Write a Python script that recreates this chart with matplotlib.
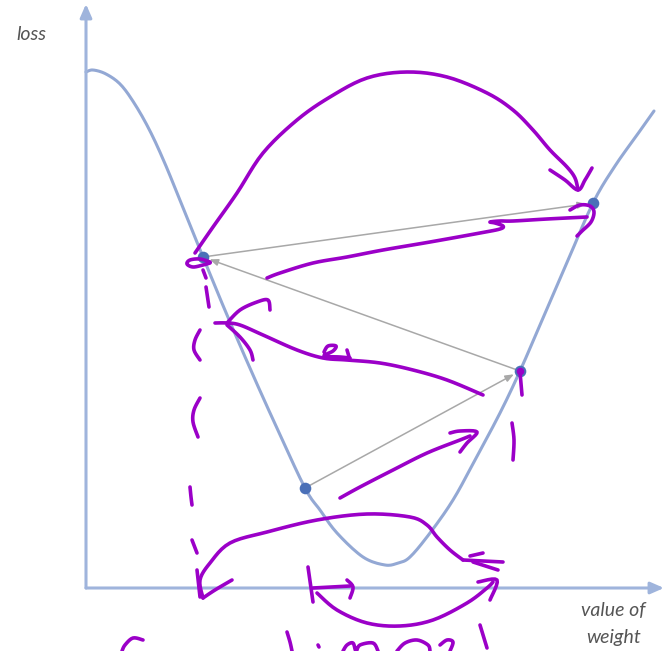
import matplotlib
matplotlib.use("Agg")
import matplotlib.pyplot as plt
import numpy as np

# Loss curve sampled along the weight axis
weight = [0, 7, 20, 35, 50, 65, 80, 95, 117, 141, 167, 190, 219, 234, 251, 277,
          299, 312, 324, 344, 367, 389, 414, 434, 454, 480, 507, 529, 551, 568]
loss = [516, 518, 514, 503, 482, 455, 422, 385, 331, 273, 213, 162, 100, 78, 55, 31,
        23, 25, 31, 55, 88, 128, 175, 217, 263, 323, 385, 422, 453, 477]

# Gradient-descent steps (in visiting order)
step_w = [219, 434, 117, 507]
step_l = [100, 217, 331, 385]

# Hand-drawn pen annotations: each stroke is a list of (weight, loss) points
pen_strokes = [
    # big arc from the left point over to the right point
    [(109, 335), (127, 361), (151, 395), (177, 435), (211, 468), (244, 491), (281, 510),
     (321, 516), (361, 511), (401, 495), (427, 478), (447, 458), (464, 438), (481, 421),
     (489, 410), (492, 398)],
    [(464, 418), (479, 408), (492, 398), (499, 408), (506, 420)],
    # arrow along the long step to the right
    [(181, 310), (194, 315), (227, 325), (261, 331), (297, 338), (344, 346), (394, 355),
     (414, 359), (417, 362), (409, 365), (404, 366), (414, 367), (427, 367), (461, 369),
     (501, 371)],
    [(484, 378), (494, 383), (504, 382), (508, 376), (505, 366), (496, 357), (491, 352)],
    # small loop on the left point
    [(124, 326), (114, 329), (104, 328), (101, 324), (107, 321), (117, 323), (124, 325)],
    # dashed drop line under the left point
    [(117, 318), (120, 310)],
    [(120, 301), (123, 281)],
    [(114, 258), (109, 248), (108, 238), (114, 228)],
    [(114, 190), (108, 178), (107, 166), (112, 151)],
    [(104, 101), (105, 91), (106, 83)],
    [(106, 48), (111, 35)],
    [(111, 18), (114, -9)],
    # arrow back to the left
    [(397, 193), (361, 208), (327, 218), (294, 225), (261, 228), (237, 230), (211, 238),
     (177, 253), (154, 263), (141, 265), (129, 265)],
    [(141, 265), (154, 278), (171, 286), (182, 288), (184, 278)],
    [(141, 263), (154, 251), (164, 238), (167, 228)],
    [(238, 236), (242, 242), (250, 242), (247, 237), (238, 232), (254, 231), (264, 230)],
    [(261, 238), (264, 228)],
    # mark on the middle-right point and tick below it
    [(434, 216), (436, 193)],
    [(426, 165), (428, 148), (427, 128)],
    # arrow along the first step
    [(254, 90), (274, 101), (307, 118), (341, 135), (374, 148), (384, 152)],
    [(364, 155), (374, 157), (391, 156), (381, 145), (374, 136)],
    # lower arc under the valley
    [(377, 28), (364, 38), (351, 51), (341, 63), (324, 71), (281, 74), (231, 68),
     (181, 56), (144, 45), (124, 25), (114, 8), (117, -10)],
    [(117, -10), (129, -2), (146, 8)],
    [(377, 28), (417, 26)],
    [(387, 26), (412, 18)],
    [(384, 32), (397, 35)],
    # start tick and arc under the axis
    [(222, 21), (227, -14)],
    [(227, 0), (264, 2)],
    [(261, 8), (267, 1), (264, -10)],
    [(231, -5), (251, -22), (281, -35), (314, -38), (347, -32), (381, -15), (401, 0),
     (407, 6)],
    [(392, 6), (411, 8), (404, -12)],
    # handwriting along the bottom edge
    [(57, -52), (47, -50), (39, -57), (36, -63)],
    [(201, -44), (204, -54), (206, -63)],
    [(232, -57), (233, -59)],
    [(257, -63), (261, -57), (267, -55), (270, -63), (274, -57), (287, -55), (292, -63)],
    [(311, -63), (319, -55), (331, -52), (342, -57), (344, -63)],
    [(354, -57), (361, -52), (367, -54), (364, -63)],
    [(394, -37), (401, -60)],
]

AXIS_BLUE = "#9fb4dc"
CURVE_BLUE = "#93a8d4"
DOT_BLUE = "#4a70b8"
PEN = "#9b00c8"
GREY_TEXT = "#555555"


def smooth_path(xs, ys, steps=10):
    """Catmull-Rom path through the given points, for a smooth pen-like line."""
    p = np.column_stack([xs, ys]).astype(float)
    if len(p) < 3:
        return p[:, 0], p[:, 1]
    ext = np.vstack([p[0], p, p[-1]])
    out = []
    t = np.linspace(0, 1, steps, endpoint=False)[:, None]
    for i in range(1, len(ext) - 2):
        p0, p1, p2, p3 = ext[i - 1], ext[i], ext[i + 1], ext[i + 2]
        seg = 0.5 * ((2 * p1) + (-p0 + p2) * t + (2 * p0 - 5 * p1 + 4 * p2 - p3) * t ** 2
                     + (-p0 + 3 * p1 - 3 * p2 + p3) * t ** 3)
        out.append(seg)
    out.append(p[-1][None, :])
    out = np.vstack(out)
    return out[:, 0], out[:, 1]


fig = plt.figure(figsize=(6.64, 6.51), dpi=100)
ax = fig.add_axes([0, 0, 1, 1])
ax.set_xlim(-86, 578)
ax.set_ylim(-63, 588)
ax.axis("off")

# axes drawn as arrows
ax.annotate("", xy=(0, 584), xytext=(0, 0),
            arrowprops=dict(arrowstyle="-|>,head_length=0.8,head_width=0.35",
                            color=AXIS_BLUE, lw=2.2, shrinkA=0, shrinkB=0))
ax.annotate("", xy=(578, 0), xytext=(0, 0),
            arrowprops=dict(arrowstyle="-|>,head_length=0.8,head_width=0.35",
                            color=AXIS_BLUE, lw=2.2, shrinkA=0, shrinkB=0))

cx, cy = smooth_path(weight, loss)
ax.plot(cx, cy, color=CURVE_BLUE, lw=2.2, solid_capstyle="round", zorder=2)

# grey step arrows between consecutive points
for i in range(len(step_w) - 1):
    ax.annotate("", xy=(step_w[i + 1], step_l[i + 1]), xytext=(step_w[i], step_l[i]),
                arrowprops=dict(arrowstyle="-|>,head_length=0.5,head_width=0.2",
                                color="#a8a8a8", lw=1.1, shrinkA=0, shrinkB=5),
                zorder=3)

ax.scatter(step_w, step_l, s=70, color=DOT_BLUE, zorder=4, linewidths=0)
ax.scatter([step_w[1]], [step_l[1]], s=30, color=PEN, zorder=6, linewidths=0)

for stroke in pen_strokes:
    xs, ys = zip(*stroke)
    sx, sy = smooth_path(xs, ys, steps=6)
    ax.plot(sx, sy, color=PEN, lw=2.6, solid_capstyle="round",
            solid_joinstyle="round", zorder=5)

ax.text(-55, 553, "loss", fontsize=14, style="italic", family="Lato",
        color=GREY_TEXT, ha="center", va="center")
ax.text(527, -23, "value of", fontsize=14, style="italic", family="Lato",
        color=GREY_TEXT, ha="center", va="center")
ax.text(528, -49, "weight", fontsize=14, style="italic", family="Lato",
        color=GREY_TEXT, ha="center", va="center")

fig.savefig("out.png", dpi=100)
